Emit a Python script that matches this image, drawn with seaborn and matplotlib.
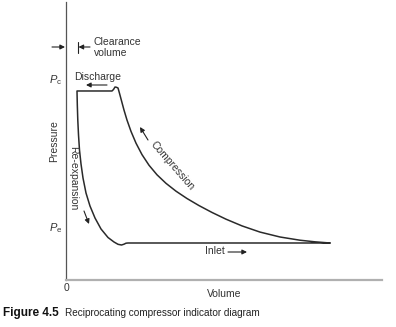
import matplotlib
matplotlib.use("Agg")
import matplotlib.pyplot as plt
import seaborn as sns
import pandas as pd
from matplotlib import font_manager

# ---- data (volume and pressure in arbitrary units 0..10) ----
# compression: from end of inlet (bottom right) up to discharge pressure
compression_v = [8.354, 7.880, 7.405, 6.772, 6.139, 5.570, 5.063, 4.620, 4.209, 3.829,
                 3.481, 3.165, 2.880, 2.627, 2.405, 2.215, 2.057, 1.930, 1.835, 1.756,
                 1.693, 1.646]
compression_p = [1.331, 1.373, 1.431, 1.547, 1.724, 1.946, 2.188, 2.430, 2.677, 2.931,
                 3.195, 3.477, 3.784, 4.128, 4.510, 4.923, 5.346, 5.754, 6.114, 6.449,
                 6.716, 6.906]
# small overshoot at the discharge valve
bump_v = [1.598, 1.551, 1.503, 1.456]
bump_p = [6.932, 6.942, 6.853, 6.799]
# discharge (constant pressure) to clearance volume
discharge_v = [0.348]
discharge_p = [6.799]
# re-expansion of the clearance gas, with undershoot at the suction valve
reexp_v = [0.358, 0.373, 0.396, 0.427, 0.475, 0.538, 0.633, 0.759, 0.918, 1.108,
           1.329, 1.519, 1.646, 1.756, 1.835, 1.899, 1.962]
reexp_p = [6.295, 5.755, 5.216, 4.676, 4.173, 3.669, 3.129, 2.662, 2.230, 1.835,
           1.529, 1.367, 1.284, 1.259, 1.288, 1.324, 1.331]
# inlet (constant pressure)
inlet_v = [8.354]
inlet_p = [1.331]

volume = compression_v + bump_v + discharge_v + reexp_v + inlet_v
pressure = compression_p + bump_p + discharge_p + reexp_p + inlet_p
df = pd.DataFrame({"Volume": volume, "Pressure": pressure})

sns.set_style("white")
names = {f.name for f in font_manager.fontManager.ttflist}
base = "Liberation Sans" if "Liberation Sans" in names else "DejaVu Sans"
narrow = "Liberation Sans Narrow" if "Liberation Sans Narrow" in names else base
plt.rcParams["font.family"] = [base, "DejaVu Sans"]
plt.rcParams["mathtext.fontset"] = "custom"
plt.rcParams["mathtext.it"] = base + ":italic"
plt.rcParams["mathtext.rm"] = base

W, H = 396, 327
fig = plt.figure(figsize=(W / 100, H / 100), dpi=100)
ax = fig.add_axes([66 / W, 1 - 280 / H, (382 - 66) / W, (280 - 2) / H])

sns.lineplot(data=df, x="Volume", y="Pressure", sort=False, estimator=None,
             color="#2a2a2a", linewidth=1.1, ax=ax)

ax.set_xlim(0, 10)
ax.set_ylim(0, 10)
ax.set_xticks([])
ax.set_yticks([])
ax.set_xlabel("")
ax.set_ylabel("")
for s in ["top", "right"]:
    ax.spines[s].set_visible(False)
ax.spines["left"].set_color("#555555")
ax.spines["left"].set_linewidth(0.9)
ax.spines["bottom"].set_color("#b0b0b0")
ax.spines["bottom"].set_linewidth(1.6)
ax.patch.set_alpha(0)


def fp(x, y):
    return (x / W, 1 - y / H)


tc = "#333333"
fs = 7.5


def txt(x, y, s, **kw):
    kw.setdefault("fontsize", fs)
    kw.setdefault("color", tc)
    kw.setdefault("ha", "center")
    kw.setdefault("va", "center")
    fig.text(*fp(x, y), s, **kw)


def arrow(x0, y0, x1, y1):
    fig.add_artist(matplotlib.patches.FancyArrowPatch(
        fp(x0, y0), fp(x1, y1), transform=fig.transFigure,
        arrowstyle="-|>", mutation_scale=7, color="#222222", lw=0.8,
        shrinkA=0, shrinkB=0))


# clearance volume marker
arrow(52, 47, 65, 47)
fig.add_artist(matplotlib.lines.Line2D([78 / W, 78 / W], [1 - 42 / H, 1 - 53 / H],
                                       color="#222222", lw=0.8, transform=fig.transFigure))
arrow(90, 47, 78.5, 47)
txt(94, 42, "Clearance", ha="left")
txt(94, 53, "volume", ha="left")

# pressure markers
txt(62, 80, r"$P_{\rm c}$", ha="right", fontsize=8)
txt(62, 228, r"$P_{\rm e}$", ha="right", fontsize=8)

# process labels
txt(74, 77, "Discharge", ha="left")
arrow(107, 85, 86, 85)
txt(172, 166, "Compression", rotation=-49, rotation_mode="anchor")
arrow(148, 140, 140, 127)
txt(73, 178, "Re-expansion", rotation=-90)
arrow(84, 211, 89, 224)
txt(205, 251, "Inlet", ha="left")
arrow(228, 252, 247, 252)

# axis labels
txt(54, 141, "Pressure", rotation=90)
txt(224, 294, "Volume")
txt(66, 288, "0")

# caption
fig.text(*fp(3, 313), "Figure 4.5", fontsize=8.5, fontweight="bold", color="#111111",
         ha="left", va="center", family=[base, "DejaVu Sans"])
fig.text(*fp(65, 313.5), "Reciprocating compressor indicator diagram", fontsize=7.2,
         color="#222222", ha="left", va="center", family=[narrow, "DejaVu Sans"])

fig.savefig("out.png", dpi=100)
